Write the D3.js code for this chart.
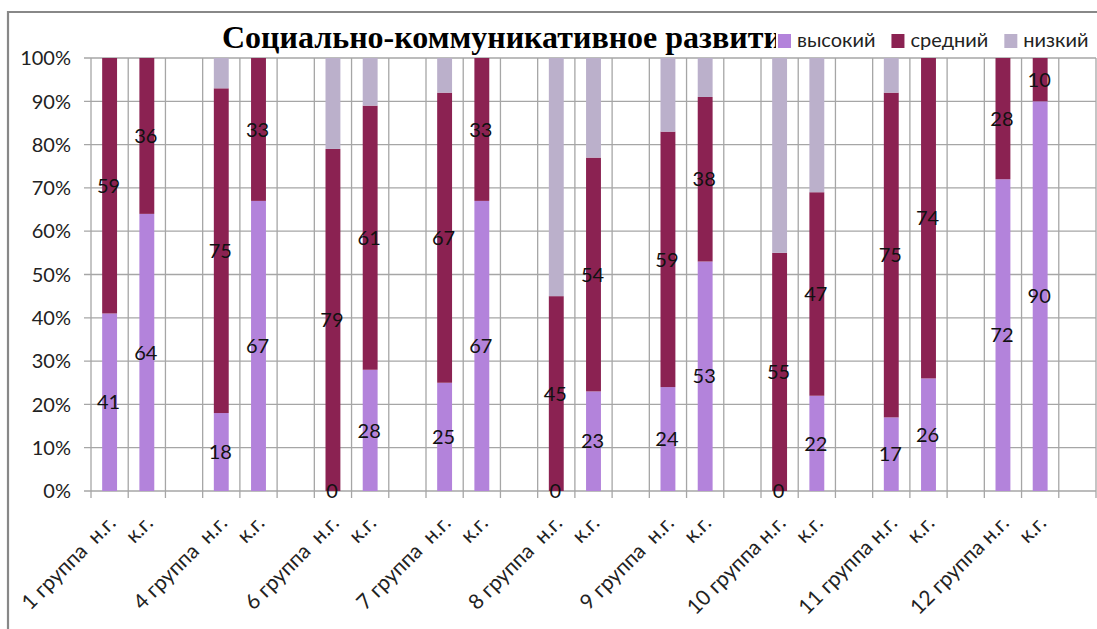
<!DOCTYPE html>
<html lang="ru">
<head>
<meta charset="utf-8">
<title>Социально-коммуникативное развитие</title>
<script src="https://cdn.jsdelivr.net/npm/d3@7"></script>
<style>
  body { margin: 0; background: #fff; }
  svg { display: block; }
  .lbl { font-family: Lato, "Open Sans", sans-serif; font-size: 20px; fill: #111; }
</style>
</head>
<body>
<script>

// categories in sheet order, blank rows between groups
var categories = [
  "1 группа  н.г.", "к.г.", "",
  "4 группа  н.г.", "к.г.", "",
  "6 группа  н.г.", "к.г.", "",
  "7 группа  н.г.", "к.г.", "",
  "8 группа  н.г.", "к.г.", "",
  "9 группа  н.г.", "к.г.", "",
  "10 группа н.г.", "к.г.", "",
  "11 группа н.г.", "к.г.", "",
  "12 группа н.г.", "к.г.", ""
];

var high = [41, 64, null, 18, 67, null, 0, 28, null, 25, 67, null, 0, 23, null, 24, 53, null, 0, 22, null, 17, 26, null, 72, 90, null];
var mid  = [59, 36, null, 75, 33, null, 79, 61, null, 67, 33, null, 45, 54, null, 59, 38, null, 55, 47, null, 75, 74, null, 28, 10, null];
var low  = [0, 0, null, 7, 0, null, 21, 11, null, 8, 0, null, 55, 23, null, 17, 9, null, 45, 31, null, 8, 0, null, 0, 0, null];

var seriesNames = ["высокий", "средний", "низкий"];
var colors = ["#b383db", "#8b2252", "#bbb0cb"];
var yTicks = [0, 10, 20, 30, 40, 50, 60, 70, 80, 90, 100];

var title = "Социально-коммуникативное развитие";

var W = 1097, H = 629;
var plotL = 91, plotR = 1096, plotT = 58, plotB = 491;

var svg = d3.select("body").append("svg")
    .attr("width", W)
    .attr("height", H);

var idx = categories.map(function(d, i) { return String(i); });

var x = d3.scaleBand()
    .domain(idx)
    .range([plotL, plotR])
    .paddingInner(0.6)
    .paddingOuter(0.3);

var y = d3.scaleLinear().domain([0, 100]).range([plotB, plotT]);

// chart frame (only top + left edges visible in the crop)
svg.append("path")
    .attr("d", "M8,630 L8,12 L1100,12")
    .attr("fill", "none")
    .attr("stroke", "#888")
    .attr("stroke-width", 2.2);

// horizontal grid
svg.append("g").selectAll("line")
    .data(yTicks)
    .enter().append("line")
    .attr("x1", plotL - 7).attr("x2", plotR)
    .attr("y1", function(d) { return y(d); })
    .attr("y2", function(d) { return y(d); })
    .attr("stroke", "#a6a6a6")
    .attr("stroke-width", 1.3);

// vertical grid at category boundaries
var bounds = d3.range(categories.length + 1).map(function(i) { return plotL + i * x.step(); });
svg.append("g").selectAll("line")
    .data(bounds)
    .enter().append("line")
    .attr("x1", function(d) { return d; })
    .attr("x2", function(d) { return d; })
    .attr("y1", plotT)
    .attr("y2", plotB + 7)
    .attr("stroke", "#a6a6a6")
    .attr("stroke-width", 1.3);

// y tick labels
svg.append("g").selectAll("text")
    .data(yTicks)
    .enter().append("text")
    .attr("class", "lbl")
    .attr("x", 71)
    .attr("y", function(d) { return y(d); })
    .attr("dy", "0.36em")
    .attr("text-anchor", "end")
    .style("fill", "#222")
    .text(function(d) { return d + "%"; });

// stacked bars
var rows = categories.map(function(c, i) {
  return { key: String(i), high: high[i], mid: mid[i], low: low[i] };
}).filter(function(d) { return d.high !== null; });

var stack = d3.stack().keys(["high", "mid", "low"]);
var layers = stack(rows);

svg.append("g").selectAll("g")
    .data(layers)
    .enter().append("g")
    .attr("fill", function(d, i) { return colors[i]; })
    .selectAll("rect")
    .data(function(d) { return d; })
    .enter().append("rect")
    .attr("x", function(d) { return x(d.data.key); })
    .attr("width", x.bandwidth())
    .attr("y", function(d) { return y(d[1]); })
    .attr("height", function(d) { return y(d[0]) - y(d[1]); });

// value labels, only высокий and средний
layers.slice(0, 2).forEach(function(layer) {
  svg.append("g").selectAll("text")
      .data(layer)
      .enter().append("text")
      .attr("class", "lbl")
      .attr("x", function(d) { return x(d.data.key) + x.bandwidth() / 2 - 1; })
      .attr("y", function(d) { return y((d[0] + d[1]) / 2); })
      .attr("dy", "0.36em")
      .attr("text-anchor", "middle")
      .text(function(d) { return d[1] - d[0]; });
});

// x labels, rotated
svg.append("g").selectAll("text")
    .data(categories.map(function(c, i) { return { key: String(i), name: c }; }).filter(function(d) { return d.name; }))
    .enter().append("text")
    .attr("class", "lbl")
    .attr("text-anchor", "end")
    .attr("xml:space", "preserve")
    .style("white-space", "pre")
    .style("font-size", "21px")
    .attr("transform", function(d) {
      return "translate(" + (x(d.key) + x.bandwidth() / 2 + 2) + "," + (plotB + 28) + ") rotate(-45)";
    })
    .attr("dy", "0.36em")
    .style("fill", "#222")
    .text(function(d) { return d.name; });

// title
svg.append("text")
    .attr("x", 222)
    .attr("y", 48)
    .style("font-family", "'Liberation Serif', 'Times New Roman', serif")
    .style("font-weight", "bold")
    .style("font-size", "32px")
    .text(title);

// legend sits over the title's tail
var legend = svg.append("g");
legend.append("rect")
    .attr("x", 776).attr("y", 22)
    .attr("width", W - 776).attr("height", 33)
    .attr("fill", "#fff");

var lx = 778;
seriesNames.forEach(function(name, i) {
  legend.append("rect")
      .attr("x", lx).attr("y", 34)
      .attr("width", 13).attr("height", 14)
      .attr("fill", colors[i]);
  var t = legend.append("text")
      .attr("class", "lbl")
      .attr("x", lx + 19)
      .attr("y", 47)
      .style("fill", "#222")
      .text(name);
  lx += 19 + t.node().getComputedTextLength() + 16;
});

</script>
</body>
</html>
